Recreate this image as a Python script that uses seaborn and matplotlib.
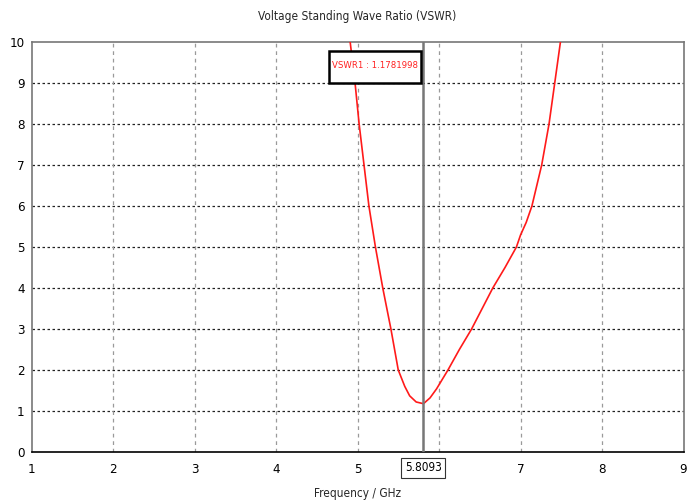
import matplotlib
matplotlib.use("Agg")
import matplotlib.pyplot as plt
from matplotlib.patches import Rectangle
import seaborn as sns
import pandas as pd

# VSWR sweep (frequency in GHz)
freq = [4.91, 4.97, 5.02, 5.08, 5.14, 5.22, 5.31, 5.41, 5.50, 5.58, 5.64, 5.72,
        5.8093, 5.89, 5.97, 6.11, 6.25, 6.40, 6.53, 6.66, 6.81, 6.95, 7.00,
        7.07, 7.14, 7.20, 7.26, 7.35, 7.42, 7.49]
vswr = [10.0, 9.0, 8.0, 7.0, 6.0, 5.0, 4.0, 3.0, 2.0, 1.6, 1.37, 1.22,
        1.1781998, 1.32, 1.54, 2.0, 2.5, 3.0, 3.5, 4.0, 4.5, 5.0, 5.29,
        5.6, 6.0, 6.5, 7.0, 8.0, 9.0, 10.0]

x_ticks = [1, 2, 3, 4, 5, 6, 7, 8, 9]
y_ticks = [0, 1, 2, 3, 4, 5, 6, 7, 8, 9, 10]

marker_freq = 5.8093
marker_value = 1.1781998
marker_name = "VSWR1"

sns.set_style("white")
plt.rcParams["font.family"] = ["Liberation Sans Narrow", "DejaVu Sans"]
plt.rcParams["font.stretch"] = "condensed"

df = pd.DataFrame({"Frequency": freq, "VSWR": vswr})

W, H = 697, 504
fig = plt.figure(figsize=(W / 100, H / 100), dpi=100)
ax = fig.add_axes([31.5 / W, 1 - 452 / H, (683.5 - 31.5) / W, (452 - 42) / H])

ax.set_xlim(1, 9)
ax.set_ylim(0, 10)
ax.set_xticks(x_ticks)
ax.set_yticks(y_ticks)

# grid: dotted black horizontals, dashed grey verticals
for yv in y_ticks[1:-1]:
    ax.axhline(yv, color="#222222", lw=0.9, ls=(0, (2, 2)), zorder=1)
for xv in x_ticks[1:-1]:
    ax.axvline(xv, color="#9a9a9a", lw=0.9, ls=(0, (3, 3)), zorder=1)

sns.lineplot(data=df, x="Frequency", y="VSWR", sort=False, color="#ff1a1a",
             lw=1.2, ax=ax, zorder=3)

# marker line
ax.axvline(marker_freq, color="#777777", lw=1.8, zorder=4)

for side in ["left", "right", "top"]:
    ax.spines[side].set_color("#777777")
    ax.spines[side].set_linewidth(1.2)
ax.spines["bottom"].set_color("black")
ax.spines["bottom"].set_linewidth(1.2)

ax.tick_params(axis="both", labelsize=9.5, length=3, width=0.8, colors="black")
ax.tick_params(axis="x", pad=5)
ax.tick_params(axis="y", pad=2)
ax.set_xlabel("Frequency / GHz", fontsize=8.5, labelpad=8)
ax.set_ylabel("")
ax.set_title("Voltage Standing Wave Ratio (VSWR)", fontsize=8.5, pad=16)

# marker readout box (drawn above the trace)
box_x0, box_x1, box_y0, box_y1 = 329, 421, 51, 83
ax.add_patch(Rectangle((box_x0 / W, 1 - box_y1 / H),
                       (box_x1 - box_x0) / W, (box_y1 - box_y0) / H,
                       transform=fig.transFigure, fc="white", ec="black",
                       lw=1.8, zorder=5, clip_on=False))
ax.text((box_x0 + box_x1) / 2 / W, 1 - 66 / H,
        f"{marker_name} : {marker_value:.7f}", transform=fig.transFigure,
        ha="center", va="center", color="#ff2020", fontsize=6.8, zorder=6)

# marker frequency label on the x axis
ax.text(marker_freq, -0.38, f"{marker_freq:.4f}", transform=ax.transData,
        ha="center", va="center", fontsize=8.5, color="black", zorder=6,
        bbox=dict(boxstyle="square,pad=0.3", fc="white", ec="#333333", lw=0.8))

fig.savefig("out.png", dpi=100)
